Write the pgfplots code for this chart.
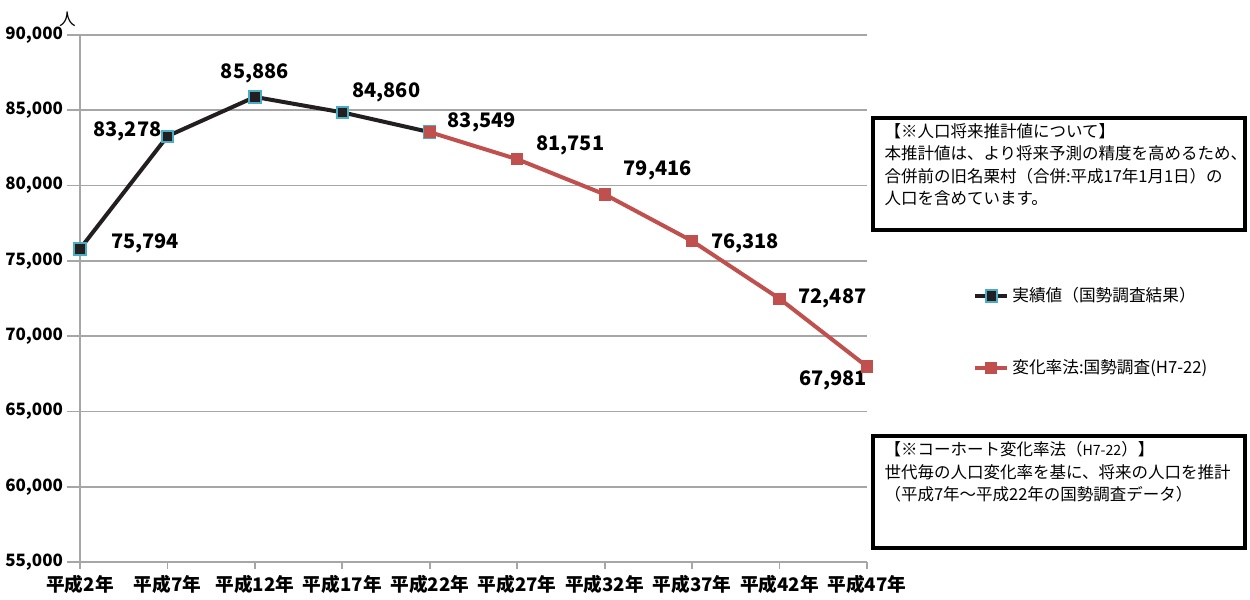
\documentclass[border=0pt]{standalone}
\usepackage{fontspec}
\setmainfont{Noto Sans CJK JP}
\usepackage{pgfplots}
\pgfplotsset{compat=1.18}
\definecolor{gridgray}{HTML}{A6A6A6}
\definecolor{blk}{HTML}{231F20}
\definecolor{tealb}{HTML}{4BACC6}
\definecolor{redl}{HTML}{C0504D}
\begin{document}
\begin{tikzpicture}
\useasboundingbox (0,0) rectangle (750pt,359.4pt);
\begin{axis}[
  at={(48pt,22.2pt)}, anchor=south west,
  scale only axis, width=472.2pt, height=316.2pt,
  xmin=0, xmax=9, ymin=55000, ymax=90000,
  xtick={0,...,9},
  xticklabels={平成2年,平成7年,平成12年,平成17年,平成22年,平成27年,平成32年,平成37年,平成42年,平成47年},
  ytick={55000,60000,...,90000},
  scaled y ticks=false,
  ymajorgrids,
  grid style={gridgray, line width=1.1pt},
  axis x line*=bottom, axis y line*=left,
  axis line style={gridgray, line width=1.1pt, -},
  tick align=outside, major tick length=4pt,
  tick style={gridgray, line width=1.1pt},
  /pgf/number format/assume math mode=true,
  /pgf/number format/fixed,
  /pgf/number format/1000 sep={,},
  yticklabel style={font=\fontsize{10.2pt}{12pt}\selectfont\bfseries, inner sep=1pt, xshift=-5pt},
  xticklabel style={font=\fontsize{11.2pt}{12pt}\selectfont\bfseries, inner sep=1pt, yshift=-2.5pt},
  extra y ticks={55000,60000,...,90000},
  extra y tick labels={},
  extra y tick style={major tick length=8pt, tick style={gridgray, line width=1.1pt}},
  clip=false,
  legend style={at={(1.1347,0.437)}, anchor=west, draw=none, fill=none, inner sep=0pt,
    font=\fontsize{10pt}{11pt}\selectfont, row sep=29pt, legend cell align=left},
  legend image code/.code={\draw[#1,mark repeat=2,mark phase=2] plot coordinates {(0pt,0pt)(9.5pt,0pt)(19pt,0pt)};},
]
\addplot[blk, line width=2.4pt, mark=square*, mark size=3.4pt,
  mark options={fill=blk, draw=tealb, line width=1.2pt}]
  coordinates {(0,75794) (1,83278) (2,85886) (3,84860) (4,83549)};
\addlegendentry{実績値（国勢調査結果）}
\addplot[redl, line width=2.4pt, mark=square*, mark size=3.4pt,
  mark options={fill=redl, draw=redl, line width=0.5pt}]
  coordinates {(4,83549) (5,81751) (6,79416) (7,76318) (8,72487) (9,67981)};
\addlegendentry{変化率法:国勢調査(H7-22)}
\begin{scope}[every node/.style={font=\fontsize{12pt}{14pt}\selectfont\bfseries, inner sep=0pt}]
\node at (axis cs:0,75794) [xshift=39pt, yshift=3.6pt] {75,794};
\node at (axis cs:1,83278) [xshift=-24pt, yshift=3pt] {83,278};
\node at (axis cs:2,85886) [yshift=14.4pt] {85,886};
\node at (axis cs:3,84860) [xshift=26.4pt, yshift=12pt] {84,860};
\node at (axis cs:4,83549) [xshift=31.2pt, yshift=6pt] {83,549};
\node at (axis cs:5,81751) [xshift=31.8pt, yshift=8.4pt] {81,751};
\node at (axis cs:6,79416) [xshift=31.8pt, yshift=14.4pt] {79,416};
\node at (axis cs:7,76318) [xshift=31.8pt, yshift=-1.2pt] {76,318};
\node at (axis cs:8,72487) [xshift=31.8pt, yshift=0pt] {72,487};
\node at (axis cs:9,67981) [xshift=-20.4pt, yshift=-8.4pt] {67,981};
\end{scope}
\end{axis}
\node[font=\fontsize{10pt}{11pt}\selectfont, inner sep=0pt] at (40.5pt,348pt) {人};
\draw[black, line width=2.2pt] (523.8pt,221.4pt) rectangle (747pt,288.6pt);
\node[anchor=north west, align=left, inner sep=0pt, font=\fontsize{9.9pt}{13.5pt}\selectfont] at (530.5pt,285.5pt)
  {【※人口将来推計値について】\\本推計値は、より将来予測の精度を高めるため、\\合併前の旧名栗村（合併:平成17年1月1日）の\\人口を含めています。};
\draw[black, line width=2.2pt] (523.8pt,30.6pt) rectangle (747pt,97.8pt);
\node[anchor=north west, align=left, inner sep=0pt, font=\fontsize{9.9pt}{13.5pt}\selectfont] at (530.5pt,94.5pt)
  {【※コーホート変化率法（{\fontsize{8.5pt}{9pt}\selectfont H7-22}）】\\世代毎の人口変化率を基に、将来の人口を推計\\（平成7年〜平成22年の国勢調査データ）};
\end{tikzpicture}
\end{document}
